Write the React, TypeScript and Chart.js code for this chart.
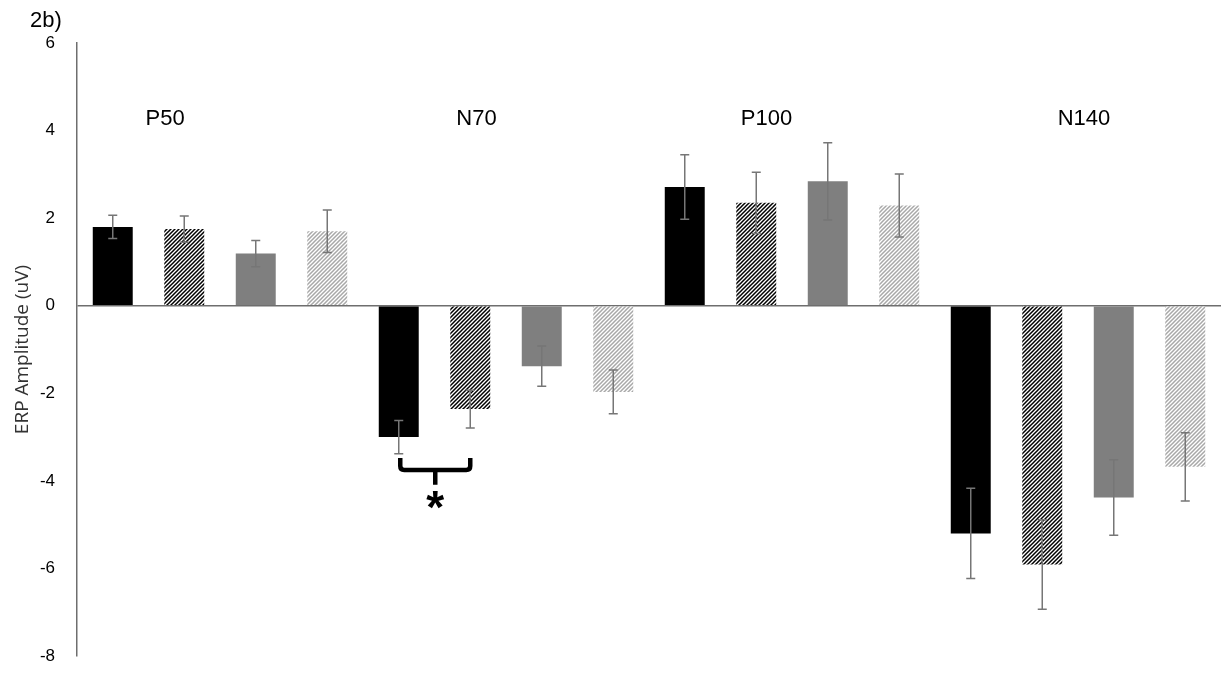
import React, { useEffect, useRef } from 'react';
import { Chart, registerables } from 'chart.js';
Chart.register(...registerables);

// ---- data ----
const categories = ['P50', 'N70', 'P100', 'N140'];
const seriesNames = ['Condition 1', 'Condition 2', 'Condition 3', 'Condition 4'];
const blackValues = [1.8, -3.0, 2.71, -5.2];
const blackErrors = [0.265, 0.38, 0.735, 1.03];
const darkHatchValues = [1.75, -2.36, 2.35, -5.91];
const darkHatchErrors = [0.3, 0.43, 0.7, 1.02];
const grayValues = [1.19, -1.38, 2.84, -4.38];
const grayErrors = [0.3, 0.46, 0.88, 0.86];
const lightHatchValues = [1.7, -1.97, 2.29, -3.68];
const lightHatchErrors = [0.485, 0.5, 0.72, 0.78];
const yTickValues = [-8, -6, -4, -2, 0, 2, 4, 6];
// group label annotations: shift in category widths, baseline in y units
const groupLabelShift = [-0.192, -0.103, -0.089, 0.021];
const groupLabelBaseline = 4.12;
const panelLabel = '2b)';
const yAxisTitle = 'ERP Amplitude (uV)';
// significance bracket (category index, dataset indices, y values)
const bracketCategory = 1;
const bracketFrom = 0;
const bracketTo = 1;
const bracketTop = -3.48;
const bracketBar = -3.75;
const bracketTip = -4.09;
const bracketStarY = -4.44;
const bracketText = '*';

const allValues = [blackValues, darkHatchValues, grayValues, lightHatchValues];
const allErrors = [blackErrors, darkHatchErrors, grayErrors, lightHatchErrors];

function makeHatch(color: string): CanvasPattern | string {
  const size = 4;
  const c = document.createElement('canvas');
  c.width = size;
  c.height = size;
  const g = c.getContext('2d');
  if (!g) return color;
  g.fillStyle = '#ffffff';
  g.fillRect(0, 0, size, size);
  g.strokeStyle = color;
  g.lineWidth = 1.5;
  g.beginPath();
  g.moveTo(-1, size + 1);
  g.lineTo(size + 1, -1);
  g.moveTo(-1, 1);
  g.lineTo(1, -1);
  g.moveTo(size - 1, size + 1);
  g.lineTo(size + 1, size - 1);
  g.stroke();
  const p = g.createPattern(c, 'repeat');
  return p || color;
}

const errorBarPlugin = {
  id: 'errorBars',
  afterDatasetsDraw(chart: any) {
    const ctx = chart.ctx;
    const y = chart.scales.y;
    ctx.save();
    ctx.strokeStyle = '#767676';
    ctx.lineWidth = 1.5;
    chart.data.datasets.forEach((_ds: any, di: number) => {
      const meta = chart.getDatasetMeta(di);
      meta.data.forEach((bar: any, i: number) => {
        const v = allValues[di][i];
        const e = allErrors[di][i];
        const x = bar.x;
        const y1 = y.getPixelForValue(v + e);
        const y2 = y.getPixelForValue(v - e);
        const cap = 4.5;
        ctx.beginPath();
        ctx.moveTo(x, y1);
        ctx.lineTo(x, y2);
        ctx.moveTo(x - cap, y1);
        ctx.lineTo(x + cap, y1);
        ctx.moveTo(x - cap, y2);
        ctx.lineTo(x + cap, y2);
        ctx.stroke();
      });
    });
    ctx.restore();
  },
};

const annotationPlugin = {
  id: 'annotations',
  afterDraw(chart: any) {
    const ctx = chart.ctx;
    const xs = chart.scales.x;
    const ys = chart.scales.y;
    const area = chart.chartArea;
    ctx.save();
    // group labels
    const catW = xs.getPixelForValue(1) - xs.getPixelForValue(0);
    ctx.fillStyle = '#000';
    ctx.font = '22px "Liberation Sans", Arial, sans-serif';
    ctx.textAlign = 'center';
    ctx.textBaseline = 'alphabetic';
    categories.forEach((c, i) => {
      const x = xs.getPixelForValue(i) + groupLabelShift[i] * catW;
      ctx.fillText(c, x, ys.getPixelForValue(groupLabelBaseline));
    });
    // panel label
    ctx.textAlign = 'left';
    ctx.font = '22px "Liberation Sans", Arial, sans-serif';
    ctx.fillText(panelLabel, area.left - 47, area.top - 16);
    // bracket
    const b0 = chart.getDatasetMeta(bracketFrom).data[bracketCategory];
    const b1 = chart.getDatasetMeta(bracketTo).data[bracketCategory];
    const xl = b0.x + 1.5;
    const xr = b1.x;
    const xm = (xl + xr) / 2;
    const yt = ys.getPixelForValue(bracketTop);
    const yb = ys.getPixelForValue(bracketBar);
    const ytip = ys.getPixelForValue(bracketTip);
    const r = 4;
    ctx.strokeStyle = '#000';
    ctx.lineWidth = 4.5;
    ctx.lineCap = 'butt';
    ctx.lineJoin = 'round';
    ctx.beginPath();
    ctx.moveTo(xl, yt);
    ctx.lineTo(xl, yb - r);
    ctx.quadraticCurveTo(xl, yb, xl + r, yb);
    ctx.lineTo(xr - r, yb);
    ctx.quadraticCurveTo(xr, yb, xr, yb - r);
    ctx.lineTo(xr, yt);
    ctx.moveTo(xm, yb);
    ctx.lineTo(xm, ytip);
    ctx.stroke();
    // asterisk
    ctx.font = 'bold 46px "Liberation Sans", Arial, sans-serif';
    ctx.textAlign = 'center';
    ctx.textBaseline = 'alphabetic';
    const m = ctx.measureText(bracketText);
    const asc = m.actualBoundingBoxAscent || 0;
    const desc = m.actualBoundingBoxDescent || 0;
    const sy = ys.getPixelForValue(bracketStarY);
    ctx.fillText(bracketText, xm, sy + (asc - desc) / 2);
    ctx.restore();
  },
};

export default function App() {
  const ref = useRef<HTMLCanvasElement | null>(null);
  useEffect(() => {
    if (!ref.current) return;
    const darkHatch = makeHatch('#000000');
    const lightHatch = makeHatch('#a8a8a8');
    const fills: any[] = ['#000000', darkHatch, '#7f7f7f', lightHatch];
    const chart = new Chart(ref.current, {
      type: 'bar',
      data: {
        labels: categories,
        datasets: allValues.map((vals, i) => ({
          label: seriesNames[i],
          data: vals,
          backgroundColor: fills[i],
          borderWidth: 0,
          categoryPercentage: 1,
          barPercentage: 0.559,
        })),
      },
      options: {
        animation: false,
        responsive: false,
        maintainAspectRatio: false,
        layout: { padding: { top: 43, bottom: 18, right: 3, left: 0 } },
        plugins: { legend: { display: false }, tooltip: { enabled: false } },
        scales: {
          x: { type: 'category', display: false, offset: true, grid: { display: false } },
          y: {
            min: yTickValues[0],
            max: yTickValues[yTickValues.length - 1],
            z: 1,
            afterFit: (s: any) => {
              s.width = 77;
            },
            afterBuildTicks: (s: any) => {
              s.ticks = yTickValues.map((v) => ({ value: v }));
            },
            ticks: {
              stepSize: 2,
              padding: 0,
              color: '#000',
              font: { family: '"Liberation Sans", Arial, sans-serif', size: 17 },
            },
            grid: {
              drawTicks: true,
              tickLength: 22,
              tickColor: 'rgba(0,0,0,0)',
              lineWidth: 1.5,
              color: (c: any) => (c.tick && c.tick.value === 0 ? '#6e6e6e' : 'rgba(0,0,0,0)'),
            },
            border: { display: true, color: '#6e6e6e', width: 1.5 },
            title: {
              display: true,
              text: yAxisTitle,
              color: '#333',
              font: { family: '"Open Sans", sans-serif', size: 19 },
              padding: { top: 11, bottom: 0 },
            },
          },
        },
      },
      plugins: [errorBarPlugin, annotationPlugin],
    } as any);
    return () => chart.destroy();
  }, []);
  return (
    <div style={{ position: 'fixed', left: 0, top: 0, width: 1224, height: 674, background: '#fff' }}>
      <canvas ref={ref} width={1224} height={674} style={{ display: 'block', width: 1224, height: 674 }} />
    </div>
  );
}
